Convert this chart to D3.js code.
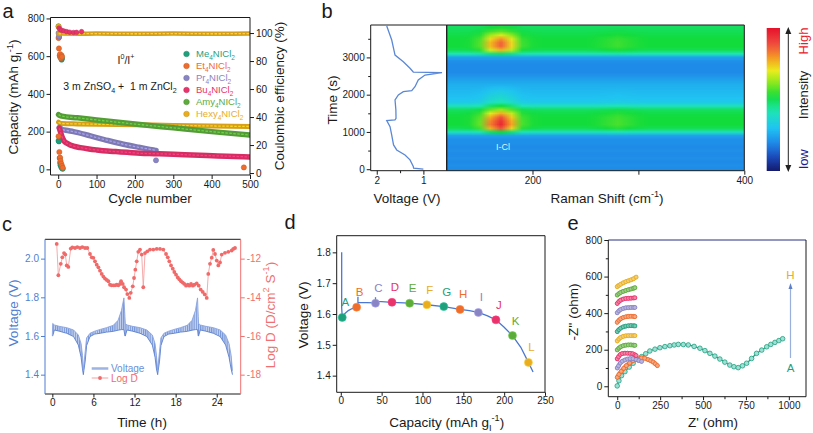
<!DOCTYPE html>
<html><head><meta charset="utf-8"><title>Figure</title>
<script src="https://cdn.jsdelivr.net/npm/d3@7/dist/d3.min.js"></script>
<style>html,body{margin:0;padding:0;background:#fff;}svg{display:block;}</style>
</head><body>
<svg id="fig" width="813" height="433" viewBox="0 0 813 433"></svg>
<script>
// ================= DATA =================
// ---- Panel a ----
const aLegendNames = ["Me","Et","Pr","Bu","Amy","Hexy"];
const aColors = ["#1fa07d","#ee6c2c","#8984c4","#e8336b","#5cab3b","#e9ad1d"];
const aCycleTicks = [0,100,200,300,400,500];
const aCapTicks = [0,200,400,600,800];
const aCETicks = [0,20,40,60,80,100];
const meCycles = [1,2,4,5,6,8,10,12];
const meCap = [152,148,60,35,22,12,6,3];
const meCECycles = [1,2,5,7,9,10];
const meCE = [104.8,97,83,84,81,82];
const etCycles = [1,3,5,6,8,10,12,484];
const etCap = [175,92,62,45,30,18,8,10];
const etCECycles = [1,2,4,5,7,9,10];
const etCE = [96.4,89,84,85,82,84,83];
const prCycles = [3,10,20,40,84,120,170,210,248,255];
const prCap = [222,212,207,200,177,158,133,117,103,100];
const prOutCycles = [255];
const prOutCap = [48];
const prCECycles = [1,2];
const prCE = [100,97.5];
const buCycles = [3,5,8,10,15,23,30,40,58,80,100,128,150,180,214,250,301,350,388,440,483,500];
const buCap = [218,205,185,173,152,138,130,123,115,108,103,97,94,90,85,83,80,76,73,70,67,66];
const buCECycles = [2,5,9,15,22,30,40,48,61];
const buCE = [103.6,102.5,102,101.5,101,100.6,100.4,100.5,101];
const amyCycles = [1,5,10,50,100,200,300,400,500];
const amyCap = [290,285,282,273,262,240,220,200,182];
const hexyCycles = [1,5,10,50,100,200,300,400,500];
const hexyCap = [250,245,243,241,239,236,233,230,227];
const hexyCECycles = [1,5,10,50,100,200,300,400,500];
const hexyCE = [99.6,99.4,99.6,99.5,99.6,99.5,99.6,99.5,99.6];
const hexyCEScatterCycles = [1];
const hexyCEScatter = [104.7];

// ---- Panel b ----
const bTimeTicks = [0,1000,2000,3000];
const bVoltTicks = [2,1];
const bRamanTicks = [200,300,400];
const bVoltTime = [0,30,71,250,383,517,651,920,1143,1304,1322,1367,1590,1858,1992,2080,2107,2215,2394,2528,2590,2608,2708,2885,3064,3244,3466,3842];
const bVolt = [1.00,1.21,1.216,1.287,1.394,1.572,1.64,1.68,1.715,1.786,1.608,1.587,1.59,1.608,1.537,1.43,1.25,1.18,1.11,0.966,0.60,1.216,1.287,1.43,1.608,1.64,1.679,1.786];
const ramanGrid = [120,130,140,150,160,170,180,190,200,210,220,230,240,250,260,270,280,290,300,310,320,330,340,350,360,370,380,390,400];
const peakShape = [0,0,0.02,0.15,0.7,1.0,0.6,0.1,0.02,0,0,0,0,0,0.02,0.06,0.1,0.06,0.02,0,0,0,0,0,0,0,0,0,0];
const timeGrid = [0,100,200,300,400,500,600,700,800,900,1000,1100,1200,1300,1400,1500,1600,1700,1800,1900,2000,2100,2200,2300,2400,2500,2600,2700,2800,2900,3000,3100,3200,3300,3400,3500,3600,3700,3800,3900];
const bandLevel = [0.20,0.21,0.20,0.21,0.20,0.21,0.20,0.21,0.21,0.24,0.40,0.50,0.52,0.52,0.52,0.51,0.49,0.40,0.32,0.30,0.29,0.28,0.27,0.26,0.24,0.22,0.20,0.20,0.20,0.21,0.24,0.42,0.50,0.52,0.52,0.52,0.51,0.50,0.49,0.49];
const peakAmp = [0,0,0,0,0,0,0,0,0,0,0.12,0.38,0.44,0.42,0.36,0.26,0.14,0.12,0.10,0.08,0.06,0.04,0.02,0,0,0,0,0,0,0,0,0.06,0.26,0.34,0.34,0.28,0.18,0.08,0.04,0.02];
const colorStops = [0,0.08,0.18,0.3,0.42,0.52,0.62,0.7,0.78,0.88,1];
const colorList = ["#141a6b","#1a3fae","#1f7fe6","#1fc4f2","#1ee6b4","#12dc3c","#8fe81c","#e9ec1e","#f5a520","#ef5040","#e6112b"];

// ---- Panel c ----
const cTimeTicks = [0,6,12,18,24];
const cVoltTicks = [1.4,1.6,1.8,2.0];
const cLogTicks = [-18,-16,-14,-12];
const cVoltTime = [0,0.05,0.3,1.0,2.1,3.1,3.8,4.2,4.4,4.53, 4.6,4.8,5.0,5.5,6.2,7.0,7.9,8.9,9.6,10.1,10.45,10.6, 10.65,10.9,11.7,12.8,13.8,14.6,15.0,15.2,15.38, 15.45,15.65,15.85,16.3,17.0,17.8,18.7,19.7,20.4,20.9,21.2,21.3, 21.35,21.6,22.4,23.5,24.5,25.3,25.8,26.1,26.3];
const cVoltLow = [1.60,1.60,1.631,1.625,1.614,1.597,1.553,1.49,1.43,1.40, 1.42,1.47,1.55,1.597,1.61,1.614,1.62,1.624,1.63,1.633,1.633,1.60, 1.60,1.631,1.625,1.614,1.597,1.553,1.49,1.43,1.40, 1.42,1.47,1.55,1.597,1.61,1.614,1.62,1.624,1.63,1.633,1.633,1.60, 1.60,1.631,1.625,1.614,1.597,1.553,1.49,1.43,1.40];
const cVoltHigh = [1.60,1.665,1.657,1.650,1.643,1.631,1.605,1.56,1.50,1.42, 1.45,1.52,1.59,1.614,1.625,1.634,1.643,1.655,1.681,1.733,1.797,1.70, 1.665,1.657,1.650,1.643,1.631,1.605,1.56,1.50,1.42, 1.45,1.52,1.59,1.614,1.625,1.634,1.643,1.655,1.681,1.733,1.797,1.70, 1.665,1.657,1.650,1.643,1.631,1.605,1.56,1.50,1.42];
const cLogTime = [0.64,0.88,1.23,1.46,1.71,1.90,2.10,2.34,2.69,2.92,3.31,3.65,4.04,4.38,4.77,5.11,5.50,5.75,5.99,6.23,6.48,6.72,6.96,7.21,7.45,7.69,7.94,8.18,8.42,8.67,8.91,9.15,9.40,9.64,9.88,10.03,10.28,10.47,10.76,10.95,11.24,11.45,11.74,11.93,12.12,12.32,12.55,12.80,13.05,13.28,13.53,13.87,14.26,14.74,15.24,15.72,16.20,16.60,16.85,17.08,17.33,17.58,17.81,18.06,18.31,18.54,18.79,19.04,19.27,19.52,19.77,20.00,20.25,20.50,20.73,21.08,21.37,21.66,21.96,22.25,22.54,22.77,23.02,23.27,23.50,23.75,24.00,24.23,24.48,24.73,25.21,25.69,26.19,26.42,26.67];
const cLogD = [-11.24,-12.86,-12.27,-11.93,-11.71,-11.79,-12.35,-12.43,-11.48,-11.42,-11.45,-11.40,-11.45,-11.40,-11.45,-11.45,-11.76,-11.93,-11.96,-12.14,-12.31,-12.45,-12.62,-12.79,-12.93,-13.03,-13.10,-13.17,-13.35,-13.38,-13.38,-13.38,-13.35,-13.38,-13.31,-13.17,-13.31,-13.48,-13.60,-13.83,-14.03,-13.77,-13.43,-13.00,-12.57,-12.14,-11.65,-11.53,-11.79,-13.48,-11.71,-11.62,-11.53,-11.53,-11.50,-11.50,-11.53,-11.76,-11.93,-12.14,-12.35,-12.52,-12.69,-12.83,-12.97,-13.07,-13.17,-13.24,-13.31,-13.40,-13.35,-13.40,-13.31,-13.40,-13.35,-13.28,-13.40,-13.60,-13.72,-13.85,-14.03,-12.79,-12.27,-11.95,-11.55,-11.76,-12.10,-12.35,-12.20,-11.79,-11.70,-11.65,-11.58,-11.50,-11.45];

// ---- Panel d ----
const dCapTicks = [0,50,100,150,200,250];
const dVoltTicks = [1.4,1.5,1.6,1.7,1.8];
const dCurveCap = [1.1,1.1,1.8,5.1,9.2,13.3,19.4,21,21,21,31.6,42.5,42.5,42.5,50,62.7,84.3,105.4,126.1,146,157.4,168.4,179.7,189.9,200,210.2,220.4,229.7,235.4];
const dCurveV = [1.80,1.62,1.589,1.602,1.611,1.617,1.622,1.625,1.656,1.637,1.637,1.636,1.654,1.641,1.640,1.638,1.635,1.630,1.624,1.615,1.611,1.605,1.594,1.581,1.557,1.530,1.492,1.443,1.412];
const dPointLabels = ["A","B","C","D","E","F","G","H","I","J","K","L"];
const dPointCap = [1.8,19.4,42.5,62.7,84.3,105.4,126.1,146,168.4,189.9,210.2,229.7];
const dPointV = [1.589,1.622,1.635,1.638,1.635,1.630,1.624,1.615,1.605,1.581,1.530,1.443];
const dPointColors = ["#1fa07d","#ee6c2c","#8984c4","#e8336b","#5cab3b","#e9ad1d","#1fa07d","#ee6c2c","#8984c4","#e8336b","#5cab3b","#e9ad1d"];

// ---- Panel e ----
const eXTicks = [0,250,500,750,1000];
const eYTicks = [0,200,400,600,800];
const eColors = ["#1fa07d","#ee6c2c","#8984c4","#e8336b","#5cab3b","#e9ad1d","#1fa07d","#ee6c2c","#8984c4","#e8336b","#5cab3b","#e9ad1d"];
const eZre = [
  [0,10,25,45,70,93,118,142,166,190,220,249,278,307,332,356,385,414,448,482,511,540,569,598,627,656,680,705,730,754,783,812,842,871,895,919,942,964],
  [0,10,23,38,53,72,92,115,141,160,180,195,209,222,234],
  [0,8,18,30,45,60,75,92,110,126,142],
  [0,8,18,30,45,60,75,90,103,110],
  [0,10,20,35,50,65,80,95,103],
  [0,10,20,35,50,65,80,95,103],
  [0,10,20,35,50,65,80,95,103],
  [0,10,20,35,50,65,80,95,103],
  [0,10,20,35,50,65,80,95,103],
  [0,10,20,35,50,65,80,95,103],
  [0,10,20,35,50,65,80,95,103],
  [0,10,20,35,50,65,80,95,110]
];
const eZim = [
  [2,30,58,80,105,126,146,162,178,193,203,211,217,222,226,229,228,226,218,208,195,180,165,149,132,116,107,102,112,126,152,180,198,216,229,240,250,260],
  [49,65,82,98,113,127,140,148,155,153,146,140,133,123,113],
  [100,112,127,137,144,149,151,151,146,141,136],
  [150,162,174,179,181,181,180,178,172,168],
  [199,209,216,222,225,226,226,225,224],
  [248,259,267,273,276,277,277,277,277],
  [299,310,318,325,329,331,332,331,330],
  [350,361,369,376,380,382,383,382,381],
  [402,413,420,426,429,430,431,431,431],
  [453,464,471,477,480,481,482,483,484],
  [499,507,513,519,524,528,532,536,539],
  [545,552,558,566,572,577,582,588,597]
];

// ================= HELPERS =================
const FONT = '"Liberation Sans", Arial, Helvetica, sans-serif';
const svg = d3.select("#fig").attr("font-family", FONT);
const defs = svg.append("defs");
const fmtInt = d3.format("d");

function rich(textSel, parts, fs) {
  let cur = 0;
  parts.forEach(p => {
    const target = p.sub ? fs * 0.28 : (p.sup ? -fs * 0.42 : 0);
    const ts = textSel.append("tspan").text(p.t);
    if (target !== cur) ts.attr("dy", target - cur);
    if (p.sub || p.sup) ts.attr("font-size", fs * 0.68);
    cur = target;
  });
}
function label(parent, x, y, parts, opts = {}) {
  const fs = opts.fs || 13;
  const t = parent.append("text").attr("font-size", fs).attr("fill", opts.color || "#1a1a1a")
    .attr("text-anchor", opts.anchor || "middle");
  if (opts.rotate) t.attr("transform", `translate(${x + 0.35 * fs},${y}) rotate(-90)`);
  else t.attr("x", x).attr("y", y + 0.35 * fs);
  if (typeof parts === "string") parts = [{t: parts}];
  rich(t, parts, fs);
  return t;
}
function drawAxis(parent, gen, tx, ty, opts = {}) {
  const g = parent.append("g").attr("transform", `translate(${tx},${ty})`).call(gen);
  g.attr("font-family", FONT).attr("font-size", opts.fs || 10);
  g.select(".domain").remove();
  g.selectAll(".tick line").attr("stroke", opts.color || "#1a1a1a");
  g.selectAll(".tick text").attr("fill", opts.textColor || "#1a1a1a");
  return g;
}
function minorAxis(parent, gen, tx, ty, color) {
  gen.tickFormat("").tickSize(2.5);
  const g = parent.append("g").attr("transform", `translate(${tx},${ty})`).call(gen);
  g.select(".domain").remove();
  g.selectAll(".tick line").attr("stroke", color || "#1a1a1a");
}
function frame(parent, x0, y0, x1, y1, c = {}) {
  const col = k => c[k] || "#1a1a1a";
  parent.append("line").attr("x1", x0).attr("x2", x1).attr("y1", y0).attr("y2", y0).attr("stroke", col("t"));
  parent.append("line").attr("x1", x0).attr("x2", x1).attr("y1", y1).attr("y2", y1).attr("stroke", col("b"));
  parent.append("line").attr("x1", x0).attr("x2", x0).attr("y1", y0).attr("y2", y1).attr("stroke", col("l"));
  parent.append("line").attr("x1", x1).attr("x2", x1).attr("y1", y0).attr("y2", y1).attr("stroke", col("r"));
}
function clip(id, x0, y0, x1, y1) {
  defs.append("clipPath").attr("id", id).append("rect").attr("x", x0).attr("y", y0).attr("width", x1 - x0).attr("height", y1 - y0);
  return `url(#${id})`;
}
const fmtHyphen = d => String(d);

// ================= PANEL a =================
(function () {
  const g = svg.append("g");
  const X0 = 50.5, X1 = 250, Y0 = 17.5, Y1 = 175;
  const x = d3.scaleLinear().domain([-20, 500]).range([X0, X1]);
  const yL = d3.scaleLinear().domain([-30, 805]).range([Y1, Y0]);
  const yR = d3.scaleLinear().domain([-1.4, 111.1]).range([Y1, Y0]);
  const pg = g.append("g").attr("clip-path", clip("clipA", X0, Y0, X1, Y1));

  function band(xs, ys, yS, color, w) {
    const line = d3.line().x((d, i) => x(xs[i])).y((d, i) => yS(ys[i])).curve(d3.curveMonotoneX);
    pg.append("path").attr("d", line(xs)).attr("fill", "none").attr("stroke", d3.color(color).darker(0.25))
      .attr("stroke-width", w).attr("stroke-linecap", "round");
    pg.append("path").attr("d", line(xs)).attr("fill", "none").attr("stroke", d3.color(color).brighter(0.7))
      .attr("stroke-width", 1.3).attr("stroke-dasharray", "2.5 1.5").attr("opacity", 0.85);
  }
  function dots(xs, ys, yS, color, r = 2.6) {
    pg.selectAll(null).data(xs).enter().append("circle")
      .attr("cx", (d, i) => x(xs[i])).attr("cy", (d, i) => yS(ys[i])).attr("r", r)
      .attr("fill", color).attr("stroke", d3.color(color).darker(0.5)).attr("stroke-width", 0.5);
  }
  band(hexyCycles, hexyCap, yL, aColors[5], 5);
  band(amyCycles, amyCap, yL, aColors[4], 5.5);
  band(prCycles, prCap, yL, aColors[2], 5.5);
  band(buCycles, buCap, yL, aColors[3], 5.5);
  dots(prOutCycles, prOutCap, yL, aColors[2]);
  dots(meCycles, meCap, yL, aColors[0]);
  dots(etCycles, etCap, yL, aColors[1]);
  dots(meCECycles, meCE, yR, aColors[0]);
  dots(etCECycles, etCE, yR, aColors[1]);
  dots(prCECycles, prCE, yR, aColors[2]);
  band(hexyCECycles, hexyCE, yR, aColors[5], 4.5);
  dots(hexyCEScatterCycles, hexyCEScatter, yR, aColors[5]);
  dots(buCECycles, buCE, yR, aColors[3], 2.3);

  frame(g, X0, Y0, X1, Y1);
  drawAxis(g, d3.axisBottom(x).tickValues(aCycleTicks).tickSize(4).tickPadding(2).tickFormat(fmtInt), 0, Y1);
  drawAxis(g, d3.axisLeft(yL).tickValues(aCapTicks).tickSize(4).tickPadding(2).tickFormat(fmtInt), X0, 0);
  drawAxis(g, d3.axisRight(yR).tickValues(aCETicks).tickSize(4).tickPadding(2).tickFormat(fmtInt), X1, 0);

  label(g, 13.5, 97, [{t: "Capacity (mAh g"}, {t: "I", sub: true}, {t: "-1", sup: true}, {t: ")"}], {rotate: true, fs: 13.5});
  label(g, 279, 96, "Coulombic efficiency (%)", {rotate: true, fs: 13.5});
  label(g, 150, 198, "Cycle number", {fs: 13.5});
  label(g, 126, 60, [{t: "I"}, {t: "0", sup: true}, {t: "/I"}, {t: "+", sup: true}], {fs: 10.5});
  label(g, 120, 86, [{t: "3 m ZnSO"}, {t: "4", sub: true}, {t: " +\u00a0 1 m ZnCl"}, {t: "2", sub: true}], {fs: 10.5});

  aLegendNames.forEach((n, i) => {
    const yy = 54 + i * 12;
    g.append("circle").attr("cx", 186.5).attr("cy", yy).attr("r", 2.8).attr("fill", aColors[i])
      .attr("stroke", d3.color(aColors[i]).darker(0.5)).attr("stroke-width", 0.5);
    label(g, 196, yy, [{t: n}, {t: "4", sub: true}, {t: "NICl"}, {t: "2", sub: true}], {fs: 9.5, anchor: "start", color: aColors[i]});
  });
  label(g, 8, 11, "a", {fs: 20});
})();

// ================= PANEL b =================
const heatColor = d3.scaleLinear().domain(colorStops).range(colorList).clamp(true);
(function () {
  const g = svg.append("g");
  const Y0 = 25, Y1 = 170.7, VX0 = 370.7, VX1 = 446.7, RX1 = 744.3;
  const t = d3.scaleLinear().domain([-40, 3870]).range([Y1, Y0]);
  const v = d3.scaleLinear().domain([2.13, 0.5]).range([VX0, VX1]);
  const r = d3.scaleLinear().domain([119, 400]).range([VX1, RX1]);

  const cols = ramanGrid.length, rows = timeGrid.length;
  const cv = document.createElement("canvas");
  cv.width = cols; cv.height = rows;
  const ctx = cv.getContext("2d");
  const img = ctx.createImageData(cols, rows);
  for (let j = 0; j < rows; j++) {
    const ti = rows - 1 - j;
    for (let i = 0; i < cols; i++) {
      const val = bandLevel[ti] + peakAmp[ti] * peakShape[i];
      const c = d3.rgb(heatColor(val));
      const k = (j * cols + i) * 4;
      img.data[k] = c.r; img.data[k + 1] = c.g; img.data[k + 2] = c.b; img.data[k + 3] = 255;
    }
  }
  ctx.putImageData(img, 0, 0);
  const stepR = ramanGrid[1] - ramanGrid[0], stepT = timeGrid[1] - timeGrid[0];
  const ix0 = r(ramanGrid[0] - stepR / 2), ix1 = r(ramanGrid[cols - 1] + stepR / 2);
  const iy0 = t(timeGrid[rows - 1] + stepT / 2), iy1 = t(timeGrid[0] - stepT / 2);
  g.append("g").attr("clip-path", clip("clipB", VX1, Y0, RX1, Y1))
    .append("image").attr("href", cv.toDataURL()).attr("x", ix0).attr("y", iy0)
    .attr("width", ix1 - ix0).attr("height", iy1 - iy0).attr("preserveAspectRatio", "none");

  const line = d3.line().x((d, i) => v(bVolt[i])).y((d, i) => t(bVoltTime[i]));
  g.append("g").attr("clip-path", clip("clipBV", VX0, Y0, VX1, Y1))
    .append("path").attr("d", line(bVolt)).attr("fill", "none").attr("stroke", "#5b88d6").attr("stroke-width", 1.3);

  frame(g, VX0, Y0, VX1, Y1);
  frame(g, VX1, Y0, RX1, Y1);
  drawAxis(g, d3.axisLeft(t).tickValues(bTimeTicks).tickSize(4).tickPadding(2).tickFormat(fmtInt), VX0, 0);
  minorAxis(g, d3.axisLeft(t).tickValues([500, 1500, 2500, 3500]), VX0, 0);
  drawAxis(g, d3.axisBottom(v).tickValues(bVoltTicks).tickSize(4).tickPadding(2).tickFormat(fmtInt), 0, Y1);
  minorAxis(g, d3.axisBottom(v).tickValues([1.5]), 0, Y1);
  drawAxis(g, d3.axisBottom(r).tickValues(bRamanTicks).tickSize(4).tickPadding(2).tickFormat(d => d === 300 ? "" : fmtInt(d)), 0, Y1);

  label(g, 332, 100, "Time (s)", {rotate: true, fs: 13.5});
  label(g, 407, 198, "Voltage (V)", {fs: 13.5});
  label(g, 607, 198, [{t: "Raman Shift (cm"}, {t: "-1", sup: true}, {t: ")"}], {fs: 13.5});
  label(g, 503, 147, "I-Cl", {fs: 9, color: "#d9f6ff"});
  label(g, 327, 11, "b", {fs: 20});

  const grad = defs.append("linearGradient").attr("id", "cbar").attr("x1", 0).attr("y1", 1).attr("x2", 0).attr("y2", 0);
  d3.range(0, 1.0001, 0.05).forEach(s => grad.append("stop").attr("offset", s).attr("stop-color", heatColor(s)));
  g.append("rect").attr("x", 766.7).attr("y", 28).attr("width", 13.3).attr("height", 143).attr("fill", "url(#cbar)");
  g.append("line").attr("x1", 788.3).attr("x2", 788.3).attr("y1", 31).attr("y2", 168).attr("stroke", "#222").attr("stroke-width", 1);
  g.append("path").attr("d", "M788.3,27 L785.3,34 L791.3,34 Z").attr("fill", "#222");
  g.append("path").attr("d", "M788.3,172 L785.3,165 L791.3,165 Z").attr("fill", "#222");
  label(g, 803, 41, "High", {rotate: true, fs: 13, color: "#e8202a"});
  label(g, 803, 95, "Intensity", {rotate: true, fs: 13, color: "#222"});
  label(g, 803, 159, "low", {rotate: true, fs: 13, color: "#1d1d8f"});
})();

// ================= PANEL c =================
(function () {
  const g = svg.append("g");
  const X0 = 45, X1 = 240.7, Y0 = 239.3, Y1 = 394;
  const BLUE = "#4f7fd0", PINK = "#f07070";
  const x = d3.scaleLinear().domain([-1.07, 27.5]).range([X0, X1]);
  const yV = d3.scaleLinear().domain([1.3, 2.1]).range([Y1, Y0]);
  const yD = d3.scaleLinear().domain([-19, -11]).range([Y1, Y0]);
  const pg = g.append("g").attr("clip-path", clip("clipC", X0, Y0, X1, Y1));

  const pat = defs.append("pattern").attr("id", "vhatch").attr("patternUnits", "userSpaceOnUse")
    .attr("width", 2.2).attr("height", 10);
  pat.append("rect").attr("width", 2.2).attr("height", 10).attr("fill", "#c9d5ef");
  pat.append("rect").attr("width", 1.1).attr("height", 10).attr("fill", "#7394d8");

  const area = d3.area().x((d, i) => x(cVoltTime[i])).y0((d, i) => yV(cVoltLow[i])).y1((d, i) => yV(cVoltHigh[i]));
  pg.append("path").attr("d", area(cVoltTime)).attr("fill", "url(#vhatch)");
  const lo = d3.line().x((d, i) => x(cVoltTime[i])).y((d, i) => yV(cVoltLow[i]));
  const hi = d3.line().x((d, i) => x(cVoltTime[i])).y((d, i) => yV(cVoltHigh[i]));
  pg.append("path").attr("d", lo(cVoltTime)).attr("fill", "none").attr("stroke", "#5a7fcf").attr("stroke-width", 0.9);
  pg.append("path").attr("d", hi(cVoltTime)).attr("fill", "none").attr("stroke", "#8aa4e0").attr("stroke-width", 0.9);

  const dl = d3.line().x((d, i) => x(cLogTime[i])).y((d, i) => yD(cLogD[i]));
  pg.append("path").attr("d", dl(cLogD)).attr("fill", "none").attr("stroke", "#f4a2a2").attr("stroke-width", 0.9);
  pg.selectAll(null).data(cLogD).enter().append("circle")
    .attr("cx", (d, i) => x(cLogTime[i])).attr("cy", d => yD(d)).attr("r", 1.9).attr("fill", "#f06a6a");

  frame(g, X0, Y0, X1, Y1, {l: BLUE, r: PINK});
  drawAxis(g, d3.axisBottom(x).tickValues(cTimeTicks).tickSize(3.5).tickPadding(1.5).tickFormat(fmtInt), 0, Y1);
  drawAxis(g, d3.axisLeft(yV).tickValues(cVoltTicks).tickSize(4).tickPadding(2).tickFormat(d3.format(".1f")), X0, 0, {color: BLUE, textColor: BLUE});
  drawAxis(g, d3.axisRight(yD).tickValues(cLogTicks).tickSize(4).tickPadding(2).tickFormat(fmtHyphen), X1, 0, {color: PINK, textColor: PINK});

  g.append("line").attr("x1", 91.7).attr("x2", 108.3).attr("y1", 368.5).attr("y2", 368.5).attr("stroke", "#9db3e3").attr("stroke-width", 2.5);
  label(g, 111, 368.5, "Voltage", {fs: 10, anchor: "start", color: "#6d8fd6"});
  g.append("line").attr("x1", 91.7).attr("x2", 108.3).attr("y1", 378).attr("y2", 378).attr("stroke", "#f4a2a2").attr("stroke-width", 1);
  g.append("circle").attr("cx", 100).attr("cy", 378).attr("r", 1.9).attr("fill", "#f06a6a");
  label(g, 111, 378, "Log D", {fs: 10, anchor: "start", color: "#ef6b6b"});

  label(g, 13, 313, "Voltage (V)", {rotate: true, fs: 13.5, color: BLUE});
  label(g, 270, 315, [{t: "Log D (D/cm"}, {t: "2", sup: true}, {t: " S"}, {t: "-1", sup: true}, {t: ")"}], {rotate: true, fs: 13.5, color: PINK});
  label(g, 142, 422, "Time (h)", {fs: 13.5});
  label(g, 7, 224, "c", {fs: 20});
})();

// ================= PANEL d =================
(function () {
  const g = svg.append("g");
  const X0 = 336.7, X1 = 545, Y0 = 235.7, Y1 = 392.3;
  const x = d3.scaleLinear().domain([-5, 250]).range([X0, X1]);
  const y = d3.scaleLinear().domain([1.346, 1.854]).range([Y1, Y0]);
  const pg = g.append("g").attr("clip-path", clip("clipD", X0, Y0, X1, Y1));
  const line = d3.line().x((d, i) => x(dCurveCap[i])).y((d, i) => y(dCurveV[i]));
  pg.append("path").attr("d", line(dCurveCap)).attr("fill", "none").attr("stroke", "#4a78d0").attr("stroke-width", 1.3);
  pg.selectAll(null).data(dPointCap).enter().append("circle")
    .attr("cx", d => x(d)).attr("cy", (d, i) => y(dPointV[i])).attr("r", 4)
    .attr("fill", (d, i) => dPointColors[i]).attr("stroke", (d, i) => d3.color(dPointColors[i]).brighter(0.6)).attr("stroke-width", 0.6);
  dPointLabels.forEach((s, i) => {
    label(g, x(dPointCap[i]) + 3, y(dPointV[i]) - 15, s, {fs: 11.5, color: dPointColors[i]});
  });
  frame(g, X0, Y0, X1, Y1);
  drawAxis(g, d3.axisBottom(x).tickValues(dCapTicks).tickSize(3.5).tickPadding(1.5).tickFormat(fmtInt), 0, Y1);
  drawAxis(g, d3.axisLeft(y).tickValues(dVoltTicks).tickSize(4).tickPadding(2).tickFormat(d3.format(".1f")), X0, 0);
  label(g, 303, 315, "Voltage (V)", {rotate: true, fs: 13.5});
  label(g, 446.7, 422, [{t: "Capacity (mAh g"}, {t: "I", sub: true}, {t: "-1", sup: true}, {t: ")"}], {fs: 13.5});
  label(g, 290, 222, "d", {fs: 20});
})();

// ================= PANEL e =================
(function () {
  const g = svg.append("g");
  const X0 = 608.3, X1 = 806, Y0 = 240, Y1 = 396.7;
  const x = d3.scaleLinear().domain([-52, 1100]).range([X0, X1]);
  const y = d3.scaleLinear().domain([-57, 800]).range([Y1, Y0]);
  const pg = g.append("g").attr("clip-path", clip("clipE", X0, Y0, X1, Y1));
  eZre.forEach((xs, k) => {
    const ys = eZim[k], col = eColors[k];
    const isA = k === 0;
    const lineFn = d3.line().x((d, i) => x(xs[i])).y((d, i) => y(ys[i]))
      .curve(isA ? d3.curveCatmullRom : d3.curveMonotoneX);
    pg.append("path").attr("d", lineFn(xs)).attr("fill", "none").attr("stroke", col)
      .attr("stroke-width", isA ? 1.2 : 4.2).attr("stroke-linecap", "round");
    pg.selectAll(null).data(xs).enter().append("circle")
      .attr("cx", d => x(d)).attr("cy", (d, i) => y(ys[i])).attr("r", isA ? 2.3 : 2.0)
      .attr("fill", isA ? "#9fe0d6" : d3.interpolateRgb(col, "#ffffff")(0.4))
      .attr("stroke", col).attr("stroke-width", 0.8);
  });
  frame(g, X0, Y0, X1, Y1, {t: "#24307e"});
  drawAxis(g, d3.axisBottom(x).tickValues(eXTicks).tickSize(3.5).tickPadding(1.5).tickFormat(fmtInt), 0, Y1);
  minorAxis(g, d3.axisBottom(x).tickValues([125, 375, 625, 875]), 0, Y1);
  drawAxis(g, d3.axisLeft(y).tickValues(eYTicks).tickSize(4).tickPadding(2).tickFormat(fmtInt), X0, 0);
  minorAxis(g, d3.axisLeft(y).tickValues([100, 300, 500, 700]), X0, 0);
  g.append("line").attr("x1", 790.5).attr("x2", 790.5).attr("y1", 358).attr("y2", 287).attr("stroke", "#9ab0dc").attr("stroke-width", 1.2);
  g.append("path").attr("d", "M790.5,283 L788.5,289 L792.5,289 Z").attr("fill", "#5b7fc8");
  label(g, 790.5, 274.5, "H", {fs: 11.5, color: "#e9ad1d"});
  label(g, 790.5, 367.5, "A", {fs: 11.5, color: "#1fa07d"});
  label(g, 573, 312, "-Z'' (ohm)", {rotate: true, fs: 13.5});
  label(g, 713, 422, "Z' (ohm)", {fs: 13.5});
  label(g, 573, 223, "e", {fs: 20});
})();
</script>
</body></html>
